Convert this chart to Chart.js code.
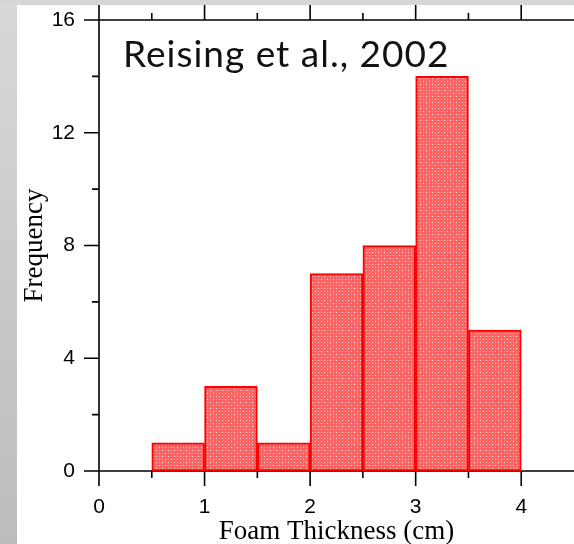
<!DOCTYPE html>
<html>
<head>
<meta charset="utf-8">
<title>Foam Thickness</title>
<script src="https://cdn.jsdelivr.net/npm/chart.js@4.4.1/dist/chart.umd.min.js"></script>
<style>
  html, body { margin: 0; padding: 0; }
  body {
    width: 574px; height: 544px; overflow: hidden; position: relative;
    background: linear-gradient(to bottom, #d8d8d8, #bcbcbc);
  }
  #top-strip { position: absolute; left: 0; top: 0; width: 574px; height: 5px; background: #d6d6d6; }
  #panel { position: absolute; left: 17px; top: 5px; width: 557px; height: 539px; background: #fff; }
</style>
</head>
<body>
<div id="top-strip"></div>
<div id="panel"><canvas id="hist" width="557" height="539"></canvas></div>
<script>
// histogram data
var binCenters = [0.75, 1.25, 1.75, 2.25, 2.75, 3.25, 3.75];
var counts = [1, 3, 1, 7, 8, 14, 5];

// axis ticks
var xTicks = [0, 1, 2, 3, 4];
var xMinorTicks = [0.5, 1.5, 2.5, 3.5];
var yTicks = [0, 4, 8, 12, 16];
var yMinorTicks = [2, 6, 10, 14];

var chartLabel = "Reising et al., 2002";

// dotted pink fill like the original
function dotPattern() {
  var c = document.createElement('canvas');
  c.width = 6; c.height = 6;
  var g = c.getContext('2d');
  g.fillStyle = '#ff6464';
  g.fillRect(0, 0, 6, 6);
  g.fillStyle = '#ffdcdc';
  g.fillRect(1, 1, 1, 1);
  g.fillRect(4, 4, 1, 1);
  g.fillStyle = '#ffa0a0';
  g.fillRect(4, 1, 1, 1);
  g.fillRect(1, 4, 1, 1);
  return g.createPattern(c, 'repeat');
}

// axis lines + tick marks drawn through the scales
var framePlugin = {
  id: 'frame',
  beforeDatasetsDraw: function(chart) {
    var ctx = chart.ctx, a = chart.chartArea;
    var x = chart.scales.x, y = chart.scales.y;
    ctx.save();
    ctx.strokeStyle = '#000';
    ctx.lineWidth = 1.6;
    ctx.beginPath();
    ctx.moveTo(a.left, a.top); ctx.lineTo(a.left, a.bottom);
    ctx.moveTo(a.left, a.bottom); ctx.lineTo(a.right, a.bottom);
    ctx.moveTo(a.left, a.top); ctx.lineTo(a.right, a.top);
    function xt(v, len) {
      var px = x.getPixelForValue(v);
      ctx.moveTo(px, a.bottom); ctx.lineTo(px, a.bottom + len);
      ctx.moveTo(px, a.top); ctx.lineTo(px, a.top - len);
    }
    function yt(v, len) {
      var py = y.getPixelForValue(v);
      ctx.moveTo(a.left, py); ctx.lineTo(a.left - len, py);
    }
    xTicks.forEach(function(v) { xt(v, 15); });
    xMinorTicks.forEach(function(v) { xt(v, 7); });
    yTicks.forEach(function(v) { yt(v, 15); });
    yMinorTicks.forEach(function(v) { yt(v, 7); });
    ctx.stroke();
    ctx.restore();
  },
  afterDraw: function(chart) {
    var ctx = chart.ctx;
    ctx.save();
    ctx.fillStyle = '#111';
    ctx.font = '37px Lato';
    ctx.letterSpacing = '1px';
    ctx.textBaseline = 'alphabetic';
    ctx.fillText(chartLabel, 106, 62);
    ctx.restore();
  }
};

new Chart(document.getElementById('hist'), {
  type: 'bar',
  data: {
    datasets: [{
      data: binCenters.map(function(c, i) { return { x: c, y: counts[i] }; }),
      backgroundColor: dotPattern(),
      borderColor: '#ff0000',
      borderWidth: 2,
      borderSkipped: false,
      barPercentage: 1,
      categoryPercentage: 1
    }]
  },
  options: {
    responsive: false,
    devicePixelRatio: 1,
    animation: false,
    layout: { autoPadding: false, padding: { top: 15, right: 0, left: 0, bottom: 0 } },
    plugins: { legend: { display: false }, tooltip: { enabled: false } },
    scales: {
      x: {
        type: 'linear',
        min: 0, max: 4.5,
        offset: false,
        grid: { display: false, drawTicks: false },
        border: { display: false },
        afterBuildTicks: function(s) { s.ticks = xTicks.map(function(v) { return { value: v }; }); },
        afterFit: function(s) { s.height = 73; s.paddingLeft = 0; s.paddingRight = 0; },
        ticks: { color: '#000', padding: 24, font: { family: 'Liberation Sans, Arial', size: 21 }, maxRotation: 0 },
        title: {
          display: true, text: 'Foam Thickness (cm)', color: '#000',
          font: { family: 'Liberation Serif, Times New Roman', size: 27, lineHeight: 0.9 },
          padding: { top: 0, bottom: 0 }
        }
      },
      y: {
        min: 0, max: 16,
        grid: { display: false, drawTicks: false },
        border: { display: false },
        afterBuildTicks: function(s) { s.ticks = yTicks.map(function(v) { return { value: v }; }); },
        afterFit: function(s) { s.width = 82; s.paddingTop = 0; s.paddingBottom = 0; },
        ticks: { color: '#000', padding: 24, font: { family: 'Liberation Sans, Arial', size: 21 } },
        title: {
          display: true, text: 'Frequency', color: '#000',
          font: { family: 'Liberation Serif, Times New Roman', size: 27, lineHeight: 1.2 },
          padding: { top: 2, bottom: 0 }
        }
      }
    }
  },
  plugins: [framePlugin]
});
</script>
</body>
</html>
